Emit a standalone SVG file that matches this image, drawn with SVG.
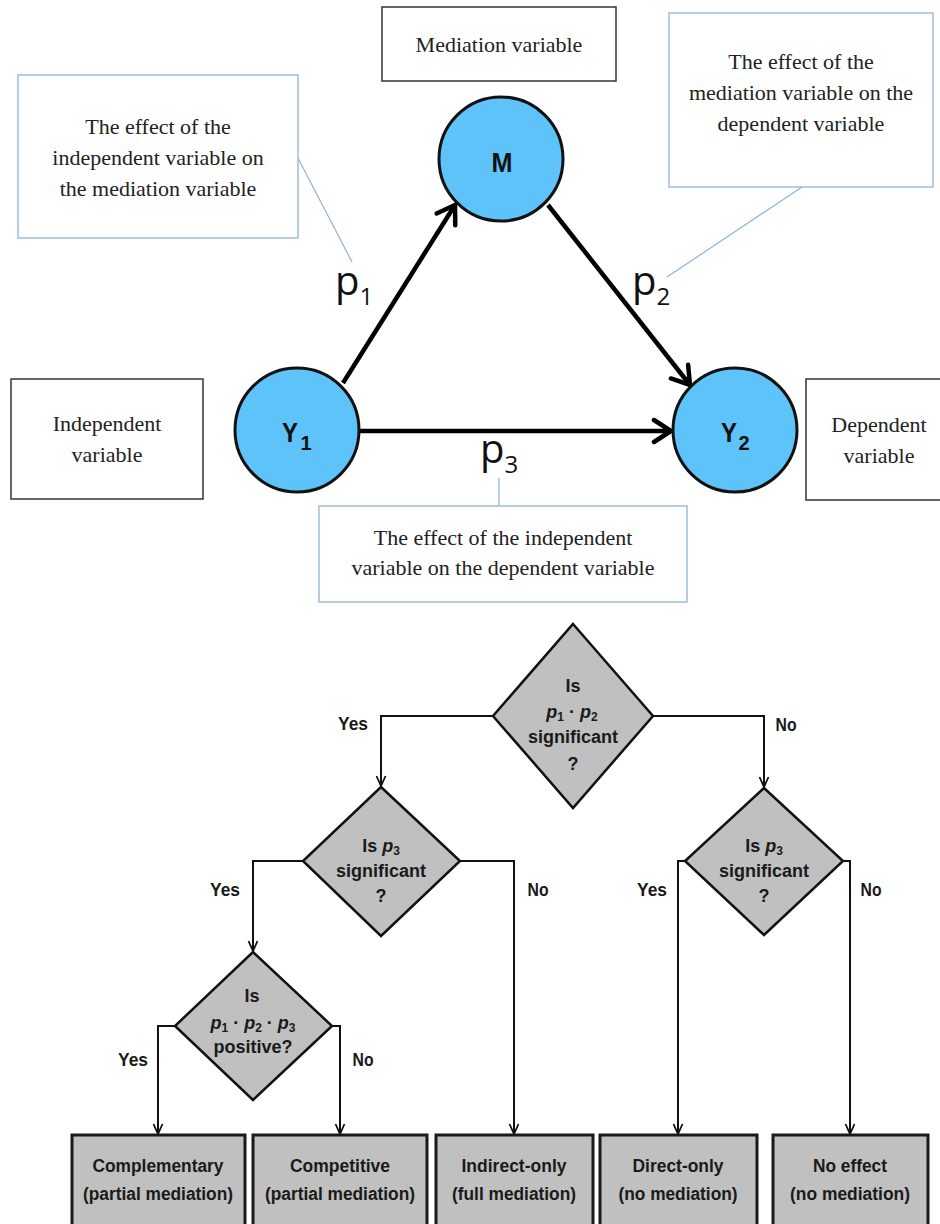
<svg xmlns="http://www.w3.org/2000/svg" width="940" height="1224" viewBox="0 0 940 1224">
<style>
.serif{font-family:"Liberation Serif","Times New Roman",serif;font-size:22px;fill:#222;text-anchor:middle}
.bbox{fill:#fff;stroke:#333;stroke-width:1.5}
.cbox{fill:#fff;stroke:#9dbde0;stroke-width:1.5}
.lead{stroke:#8db3dd;stroke-width:1.2;fill:none}
.circ{fill:#5ec3f8;stroke:#111;stroke-width:3}
.bold{font-family:"Liberation Sans","Arial",sans-serif;font-weight:bold;fill:#111;text-anchor:middle}
.plab{font-family:"Open Sans","Liberation Sans",sans-serif;fill:#111}
.big{stroke:#000;stroke-width:4.5;fill:none}
.dia{fill:#c0c0c0;stroke:#111;stroke-width:2.5;stroke-linejoin:miter}
.rbox{fill:#c0c0c0;stroke:#1a1a1a;stroke-width:3}
.con{stroke:#111;stroke-width:2;fill:none}
.ft{font-family:"Liberation Sans","Arial",sans-serif;font-weight:bold;font-size:18px;fill:#1a1a1a;text-anchor:middle}
.lab{font-family:"Liberation Sans","Arial",sans-serif;font-weight:bold;font-size:19px;fill:#1a1a1a;text-anchor:middle}
</style>
<defs>
<marker id="bigArrow" markerUnits="userSpaceOnUse" viewBox="0 0 24 28" refX="21" refY="14" markerWidth="24" markerHeight="28" orient="auto">
<path d="M4,3 L21,14 L4,25" fill="none" stroke="#000" stroke-width="4.5" stroke-linecap="round"/>
</marker>
<marker id="smallArrow" markerUnits="userSpaceOnUse" viewBox="0 0 12 12" refX="11" refY="6" markerWidth="12" markerHeight="12" orient="auto">
<path d="M1,1.5 L11,6 L1,10.5" fill="none" stroke="#111" stroke-width="1.8"/>
</marker>
</defs>
<rect width="940" height="1224" fill="#fff"/>

<g id="connectors">
<line class="big" x1="343" y1="383" x2="455" y2="205" marker-end="url(#bigArrow)"/>
<line class="big" x1="548" y1="205" x2="690" y2="385" marker-end="url(#bigArrow)"/>
<line class="big" x1="360" y1="431" x2="671" y2="431" marker-end="url(#bigArrow)"/>
<line class="lead" x1="298" y1="158" x2="352" y2="262"/>
<line class="lead" x1="802" y1="187" x2="667" y2="277"/>
<line class="lead" x1="499" y1="478" x2="499" y2="506"/>
<path class="con" d="M493,716 H381 V786" marker-end="url(#smallArrow)"/>
<path class="con" d="M653,716 H764 V787" marker-end="url(#smallArrow)"/>
<path class="con" d="M303,861 H253 V951" marker-end="url(#smallArrow)"/>
<path class="con" d="M460,861 H514 V1134" marker-end="url(#smallArrow)"/>
<path class="con" d="M175,1026 H158 V1134" marker-end="url(#smallArrow)"/>
<path class="con" d="M332,1026 H340 V1134" marker-end="url(#smallArrow)"/>
<path class="con" d="M685,861 H678 V1134" marker-end="url(#smallArrow)"/>
<path class="con" d="M843,861 H850 V1134" marker-end="url(#smallArrow)"/>
</g>

<g id="edge-labels">
<text class="plab" x="335" y="295" font-size="40">p<tspan font-size="24" dy="10">1</tspan></text>
<text class="plab" x="632" y="295" font-size="40">p<tspan font-size="24" dy="10">2</tspan></text>
<text class="plab" x="480" y="463" font-size="40">p<tspan font-size="24" dy="10">3</tspan></text>
<text class="lab" x="353" y="730" textLength="30" lengthAdjust="spacingAndGlyphs">Yes</text>
<text class="lab" x="786" y="731" textLength="21" lengthAdjust="spacingAndGlyphs">No</text>
<text class="lab" x="225" y="896" textLength="30" lengthAdjust="spacingAndGlyphs">Yes</text>
<text class="lab" x="538" y="896" textLength="21" lengthAdjust="spacingAndGlyphs">No</text>
<text class="lab" x="652" y="896" textLength="30" lengthAdjust="spacingAndGlyphs">Yes</text>
<text class="lab" x="871" y="896" textLength="21" lengthAdjust="spacingAndGlyphs">No</text>
<text class="lab" x="133" y="1066" textLength="30" lengthAdjust="spacingAndGlyphs">Yes</text>
<text class="lab" x="363" y="1066" textLength="21" lengthAdjust="spacingAndGlyphs">No</text>
</g>

<g id="mediation-box">
<rect class="bbox" x="382" y="7" width="234" height="74"/>
<text class="serif" x="499" y="52">Mediation variable</text>
</g>
<g id="callout-p1">
<rect class="cbox" x="18" y="75" width="280" height="163"/>
<text class="serif" x="158" y="134">The effect of the</text>
<text class="serif" x="158" y="165">independent variable on</text>
<text class="serif" x="158" y="196">the mediation variable</text>
</g>
<g id="callout-p2">
<rect class="cbox" x="669" y="13" width="264" height="174"/>
<text class="serif" x="801" y="69">The effect of the</text>
<text class="serif" x="801" y="100">mediation variable on the</text>
<text class="serif" x="801" y="131">dependent variable</text>
</g>
<g id="independent-box">
<rect class="bbox" x="11" y="379" width="192" height="120"/>
<text class="serif" x="107" y="431">Independent</text>
<text class="serif" x="107" y="462">variable</text>
</g>
<g id="dependent-box">
<rect class="bbox" x="806" y="379" width="140" height="121"/>
<text class="serif" x="879" y="432">Dependent</text>
<text class="serif" x="879" y="463">variable</text>
</g>
<g id="callout-p3">
<rect class="cbox" x="319" y="506" width="368" height="96"/>
<text class="serif" x="503" y="545">The effect of the independent</text>
<text class="serif" x="503" y="575">variable on the dependent variable</text>
</g>

<g id="node-M">
<circle class="circ" cx="501" cy="159" r="62"/>
<text class="bold" x="502" y="172" font-size="27" textLength="21" lengthAdjust="spacingAndGlyphs">M</text>
</g>
<g id="node-Y1">
<circle class="circ" cx="297" cy="430" r="62"/>
<text class="bold" x="290" y="442" font-size="28" textLength="16" lengthAdjust="spacingAndGlyphs">Y</text>
<text class="bold" x="306" y="450" font-size="20">1</text>
</g>
<g id="node-Y2">
<circle class="circ" cx="735" cy="430" r="62"/>
<text class="bold" x="729" y="442" font-size="28" textLength="16" lengthAdjust="spacingAndGlyphs">Y</text>
<text class="bold" x="744" y="450" font-size="20">2</text>
</g>

<g id="decision-1">
<polygon class="dia" points="573,624 653,716 573,808 493,716"/>
<text class="ft" x="573" y="692">Is</text>
<text class="ft" x="572" y="718"><tspan font-style="italic">p</tspan><tspan font-size="12" dy="3">1</tspan><tspan dy="-3"> · </tspan><tspan font-style="italic">p</tspan><tspan font-size="12" dy="3">2</tspan></text>
<text class="ft" x="573" y="743">significant</text>
<text class="ft" x="573" y="770">?</text>
</g>
<g id="decision-2">
<polygon class="dia" points="381,787 460,861 381,936 303,861"/>
<text class="ft" x="381" y="852">Is <tspan font-style="italic">p</tspan><tspan font-size="12" dy="3">3</tspan></text>
<text class="ft" x="381" y="877">significant</text>
<text class="ft" x="381" y="902">?</text>
</g>
<g id="decision-3">
<polygon class="dia" points="253,952 332,1026 253,1100 175,1026"/>
<text class="ft" x="252" y="1002">Is</text>
<text class="ft" x="253" y="1029"><tspan font-style="italic">p</tspan><tspan font-size="12" dy="3">1</tspan><tspan dy="-3"> · </tspan><tspan font-style="italic">p</tspan><tspan font-size="12" dy="3">2</tspan><tspan dy="-3"> · </tspan><tspan font-style="italic">p</tspan><tspan font-size="12" dy="3">3</tspan></text>
<text class="ft" x="253" y="1053">positive?</text>
</g>
<g id="decision-4">
<polygon class="dia" points="764,788 843,861 764,935 685,861"/>
<text class="ft" x="764" y="852">Is <tspan font-style="italic">p</tspan><tspan font-size="12" dy="3">3</tspan></text>
<text class="ft" x="764" y="877">significant</text>
<text class="ft" x="764" y="902">?</text>
</g>

<g id="outcome-complementary">
<rect class="rbox" x="72" y="1135" width="173" height="95"/>
<text class="ft" x="158" y="1172" font-size="19" textLength="131" lengthAdjust="spacingAndGlyphs">Complementary</text>
<text class="ft" x="158" y="1200" font-size="19" textLength="150" lengthAdjust="spacingAndGlyphs">(partial mediation)</text>
</g>
<g id="outcome-competitive">
<rect class="rbox" x="253" y="1135" width="174" height="95"/>
<text class="ft" x="340" y="1172" font-size="19" textLength="100" lengthAdjust="spacingAndGlyphs">Competitive</text>
<text class="ft" x="340" y="1200" font-size="19" textLength="150" lengthAdjust="spacingAndGlyphs">(partial mediation)</text>
</g>
<g id="outcome-indirect">
<rect class="rbox" x="436" y="1135" width="157" height="95"/>
<text class="ft" x="514" y="1172" font-size="19" textLength="105" lengthAdjust="spacingAndGlyphs">Indirect-only</text>
<text class="ft" x="514" y="1200" font-size="19" textLength="124" lengthAdjust="spacingAndGlyphs">(full mediation)</text>
</g>
<g id="outcome-direct">
<rect class="rbox" x="600" y="1135" width="157" height="95"/>
<text class="ft" x="678" y="1172" font-size="19" textLength="91" lengthAdjust="spacingAndGlyphs">Direct-only</text>
<text class="ft" x="678" y="1200" font-size="19" textLength="119" lengthAdjust="spacingAndGlyphs">(no mediation)</text>
</g>
<g id="outcome-noeffect">
<rect class="rbox" x="773" y="1135" width="155" height="95"/>
<text class="ft" x="850" y="1172" font-size="19" textLength="74" lengthAdjust="spacingAndGlyphs">No effect</text>
<text class="ft" x="850" y="1200" font-size="19" textLength="120" lengthAdjust="spacingAndGlyphs">(no mediation)</text>
</g>
</svg>
